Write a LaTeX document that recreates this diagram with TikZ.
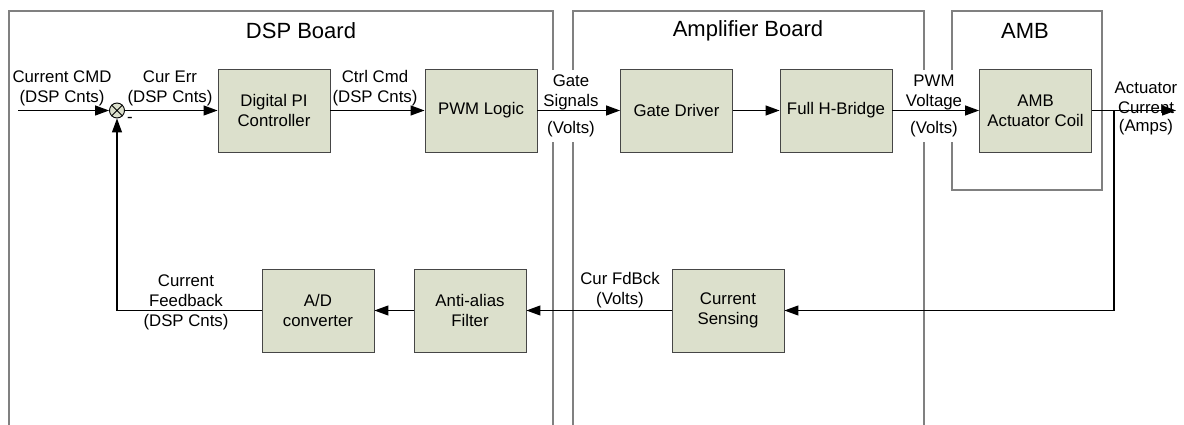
\documentclass[tikz,border=0pt]{standalone}
\usepackage{fontspec}
\setmainfont{Liberation Sans}
\usetikzlibrary{arrows.meta}
\definecolor{blockfill}{RGB}{220,224,204}
\definecolor{blockline}{RGB}{70,70,70}
\definecolor{boardline}{RGB}{128,128,128}
\begin{document}
\begin{tikzpicture}[x=1pt,y=-1pt,
  font=\fontsize{16.8}{20}\selectfont,
  blk/.style={draw=blockline,line width=0.9pt,fill=blockfill,minimum width=112pt,minimum height=83pt,inner sep=0pt,align=center},
  board/.style={draw=boardline,line width=1.3pt},
  lbl/.style={align=center,inner sep=0pt},
  wlbl/.style={align=center,fill=white,inner xsep=1pt,inner ysep=5pt},
  sig/.style={draw=black,line width=1.2pt},
  arr/.style={sig,-{Triangle[length=14pt,width=10pt]}},
  title/.style={font=\fontsize{22}{26}\selectfont}]
\useasboundingbox (0,0) rectangle (1184,425);
\fill[white] (0,0) rectangle (1184,425);
% boards
\draw[board] (9,430) -- (9,11) -- (553,11) -- (553,430);
\draw[board] (573,430) -- (573,11) -- (924,11) -- (924,430);
\draw[board] (952,11) rectangle (1102,190);
\node[title] (tdsp) at (301,31) {DSP Board};
\node[title] (tamp) at (748,31) {Amplifier Board};
\node[title] (tamb) at (1025,31) {AMB};
% labels
\node[lbl] (lcmd) at (62,88) {Current CMD\\(DSP Cnts)};
\node[lbl] (lerr) at (170,88) {Cur Err\\(DSP Cnts)};
\node[lbl] (lctrl) at (375,88) {Ctrl Cmd\\(DSP Cnts)};
\node[wlbl,anchor=north] (lgate) at (571,70) {Gate\\Signals\\[7pt](Volts)};
\node[wlbl,anchor=north] (lpwmv) at (934,70) {PWM\\Voltage\\[7pt](Volts)};
\node[lbl,anchor=north] (lact) at (1146,82) {Actuator\\Current\\[-2pt](Amps)};
\node[lbl] (lfb) at (186,302) {Current\\Feedback\\(DSP Cnts)};
\node[lbl] (lcfb) at (620,290) {Cur FdBck\\(Volts)};
% blocks
\node[blk] (pi) at (274,110.5) {Digital PI\\Controller};
\node[blk] (pwm) at (481,110.5) {PWM Logic};
\node[blk] (gd) at (676.5,110.5) {Gate Driver};
\node[blk] (hb) at (836,110.5) {Full H-Bridge};
\node[blk] (coil) at (1035.5,110.5) {AMB\\Actuator Coil};
\node[blk] (ad) at (318,310.5) {A/D\\converter};
\node[blk] (aa) at (470,310.5) {Anti-alias\\Filter};
\node[blk] (cs) at (728,310.5) {Current\\Sensing};
% summing junction
\node[circle,draw=black,line width=0.9pt,fill=blockfill,minimum size=15pt,inner sep=0pt] (sum) at (117,110.5) {};
\draw[line width=0.8pt] (sum.north east) -- (sum.south west) (sum.north west) -- (sum.south east);
\node[lbl] (minus) at (130,120) {-};
% coordinates
\coordinate (in) at (18,110.5);
\coordinate (out) at (1176,110.5);
\coordinate (tap) at (1114,110.5);
\coordinate (fbcorner) at (117,310.5);
% connectors
\draw[arr] (in) -- (sum.west);
\draw[arr] (sum.east) -- (pi.west);
\draw[arr] (pi.east) -- (pwm.west);
\draw[arr] (pwm.east) -- (gd.west);
\draw[arr] (gd.east) -- (hb.west);
\draw[arr] (hb.east) -- (coil.west);
\draw[arr] (coil.east) -- (out);
\draw[arr] (tap) |- (cs.east);
\draw[arr] (cs.west) -- (aa.east);
\draw[arr] (aa.west) -- (ad.east);
\draw[arr] (ad.west) -- (fbcorner) -- (sum.south);
\end{tikzpicture}
\end{document}
